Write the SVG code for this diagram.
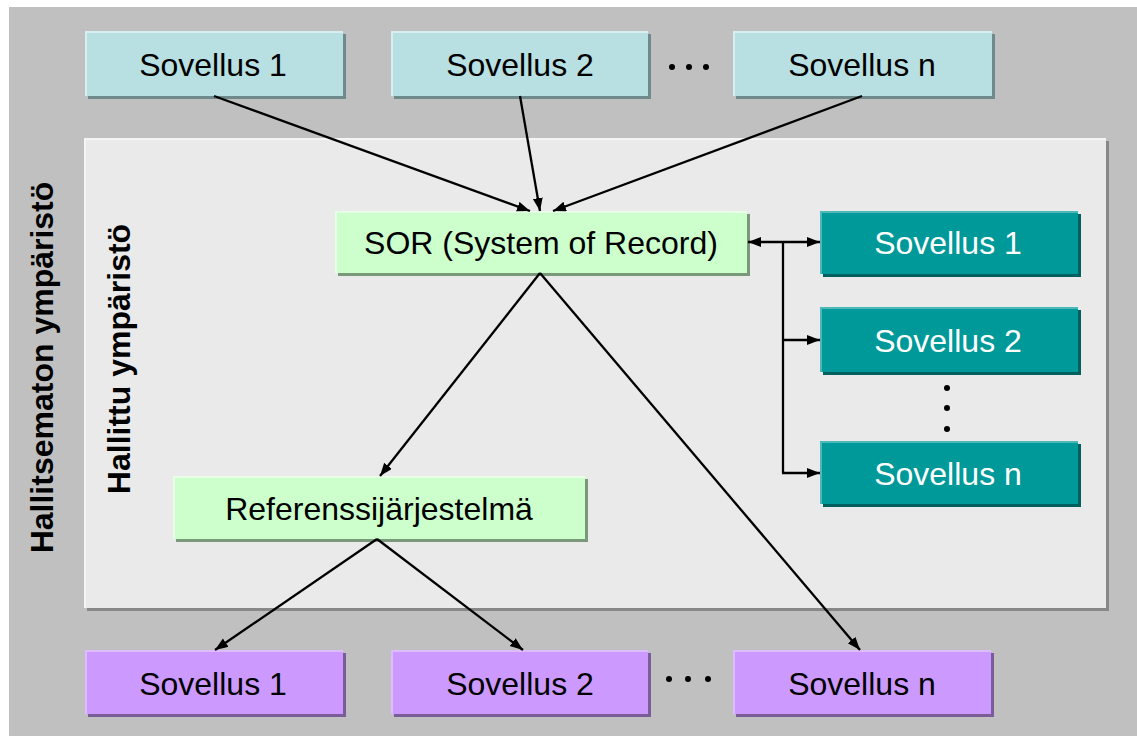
<svg xmlns="http://www.w3.org/2000/svg" width="1137" height="736" viewBox="0 0 1137 736">
<defs>
<marker id="ah" markerWidth="14" markerHeight="11" refX="13" refY="5" orient="auto-start-reverse" markerUnits="userSpaceOnUse">
<path d="M0,0 L13,5 L0,10 z" fill="#000"/>
</marker>
<style>
text{font-family:"Liberation Sans",Arial,sans-serif;font-size:32px;text-anchor:middle}
.dark{fill:#000}
.white{fill:#fff}
.lbl{font-weight:bold}
.conn line,.conn path{stroke:#000;stroke-width:2.3;fill:none}
.dot{fill:#000}
</style>
</defs>
<rect x="0" y="0" width="1137" height="736" fill="#fff"/>
<rect x="9" y="7" width="1128" height="729" fill="#c0c0c0"/>
<text class="lbl" transform="translate(53,367.5) rotate(-90)" x="0" y="0">Hallitsematon ympäristö</text>
<g id="managed">
<rect x="87" y="141" width="1022" height="470" fill="#888"/>
<rect x="84" y="138" width="1022" height="470" fill="#f5f5f5"/>
<rect x="86" y="140" width="1020" height="468" fill="#eaeaea"/>
</g>
<text class="lbl" transform="translate(130,359) rotate(-90)" x="0" y="0">Hallittu ympäristö</text>

<g id="top1"><rect x="88" y="34" width="258" height="65" fill="#6e8a8c"/><rect x="85" y="31" width="258" height="65" fill="#d9eef0"/><rect x="87" y="33" width="256" height="63" fill="#b8dfe2"/><text class="dark" x="213" y="76">Sovellus 1</text></g>
<g id="top2"><rect x="394" y="34" width="257" height="65" fill="#6e8a8c"/><rect x="391" y="31" width="257" height="65" fill="#d9eef0"/><rect x="393" y="33" width="255" height="63" fill="#b8dfe2"/><text class="dark" x="520" y="76">Sovellus 2</text></g>
<g id="topdots"><circle class="dot" cx="672" cy="67" r="3"/><circle class="dot" cx="689" cy="67" r="3"/><circle class="dot" cx="706" cy="67" r="3"/></g>
<g id="topn"><rect x="736" y="34" width="259" height="65" fill="#6e8a8c"/><rect x="733" y="31" width="259" height="65" fill="#d9eef0"/><rect x="735" y="33" width="257" height="63" fill="#b8dfe2"/><text class="dark" x="862" y="76">Sovellus n</text></g>

<g id="sor"><rect x="338" y="214" width="412" height="62" fill="#7a997a"/><rect x="335" y="211" width="412" height="62" fill="#e6ffe6"/><rect x="337" y="213" width="410" height="60" fill="#ccffcc"/><text class="dark" x="541" y="254">SOR (System of Record)</text></g>

<g id="r1"><rect x="823" y="214" width="258" height="63" fill="#005f5f"/><rect x="820" y="211" width="258" height="63" fill="#4db8b8"/><rect x="822" y="213" width="256" height="61" fill="#009999"/><text class="white" x="948" y="254">Sovellus 1</text></g>
<g id="r2"><rect x="823" y="310" width="258" height="65" fill="#005f5f"/><rect x="820" y="307" width="258" height="65" fill="#4db8b8"/><rect x="822" y="309" width="256" height="63" fill="#009999"/><text class="white" x="948" y="352">Sovellus 2</text></g>
<g id="rdots"><circle class="dot" cx="947" cy="388" r="3"/><circle class="dot" cx="947" cy="408" r="3"/><circle class="dot" cx="947" cy="429" r="3"/></g>
<g id="rn"><rect x="823" y="444" width="258" height="63" fill="#005f5f"/><rect x="820" y="441" width="258" height="63" fill="#4db8b8"/><rect x="822" y="443" width="256" height="61" fill="#009999"/><text class="white" x="948" y="485">Sovellus n</text></g>

<g id="ref"><rect x="176" y="479" width="412" height="63" fill="#7a997a"/><rect x="173" y="476" width="412" height="63" fill="#e6ffe6"/><rect x="175" y="478" width="410" height="61" fill="#ccffcc"/><text class="dark" x="379" y="520">Referenssijärjestelmä</text></g>

<g id="bot1"><rect x="88" y="653" width="258" height="64" fill="#7a5c99"/><rect x="85" y="650" width="258" height="64" fill="#ddbbff"/><rect x="87" y="652" width="256" height="62" fill="#cc99ff"/><text class="dark" x="213" y="695">Sovellus 1</text></g>
<g id="bot2"><rect x="394" y="653" width="257" height="64" fill="#7a5c99"/><rect x="391" y="650" width="257" height="64" fill="#ddbbff"/><rect x="393" y="652" width="255" height="62" fill="#cc99ff"/><text class="dark" x="520" y="695">Sovellus 2</text></g>
<g id="botdots"><circle class="dot" cx="669" cy="679" r="3"/><circle class="dot" cx="688" cy="679" r="3"/><circle class="dot" cx="708" cy="679" r="3"/></g>
<g id="botn"><rect x="736" y="653" width="258" height="64" fill="#7a5c99"/><rect x="733" y="650" width="258" height="64" fill="#ddbbff"/><rect x="735" y="652" width="256" height="62" fill="#cc99ff"/><text class="dark" x="862" y="695">Sovellus n</text></g>

<g class="conn" id="connectors">
<line x1="214" y1="96" x2="530" y2="211" marker-end="url(#ah)"/>
<line x1="520" y1="96" x2="540" y2="211" marker-end="url(#ah)"/>
<line x1="862" y1="96" x2="553" y2="211" marker-end="url(#ah)"/>
<line x1="540" y1="273" x2="380" y2="476" marker-end="url(#ah)"/>
<line x1="540" y1="273" x2="860" y2="650" marker-end="url(#ah)"/>
<line x1="377" y1="539" x2="215" y2="650" marker-end="url(#ah)"/>
<line x1="377" y1="539" x2="523" y2="650" marker-end="url(#ah)"/>
<line x1="748" y1="242" x2="820" y2="242" marker-start="url(#ah)" marker-end="url(#ah)"/>
<path d="M783,242 V473"/>
<line x1="783" y1="340" x2="820" y2="340" marker-end="url(#ah)"/>
<line x1="782" y1="473" x2="820" y2="473" marker-end="url(#ah)"/>
</g>
</svg>
